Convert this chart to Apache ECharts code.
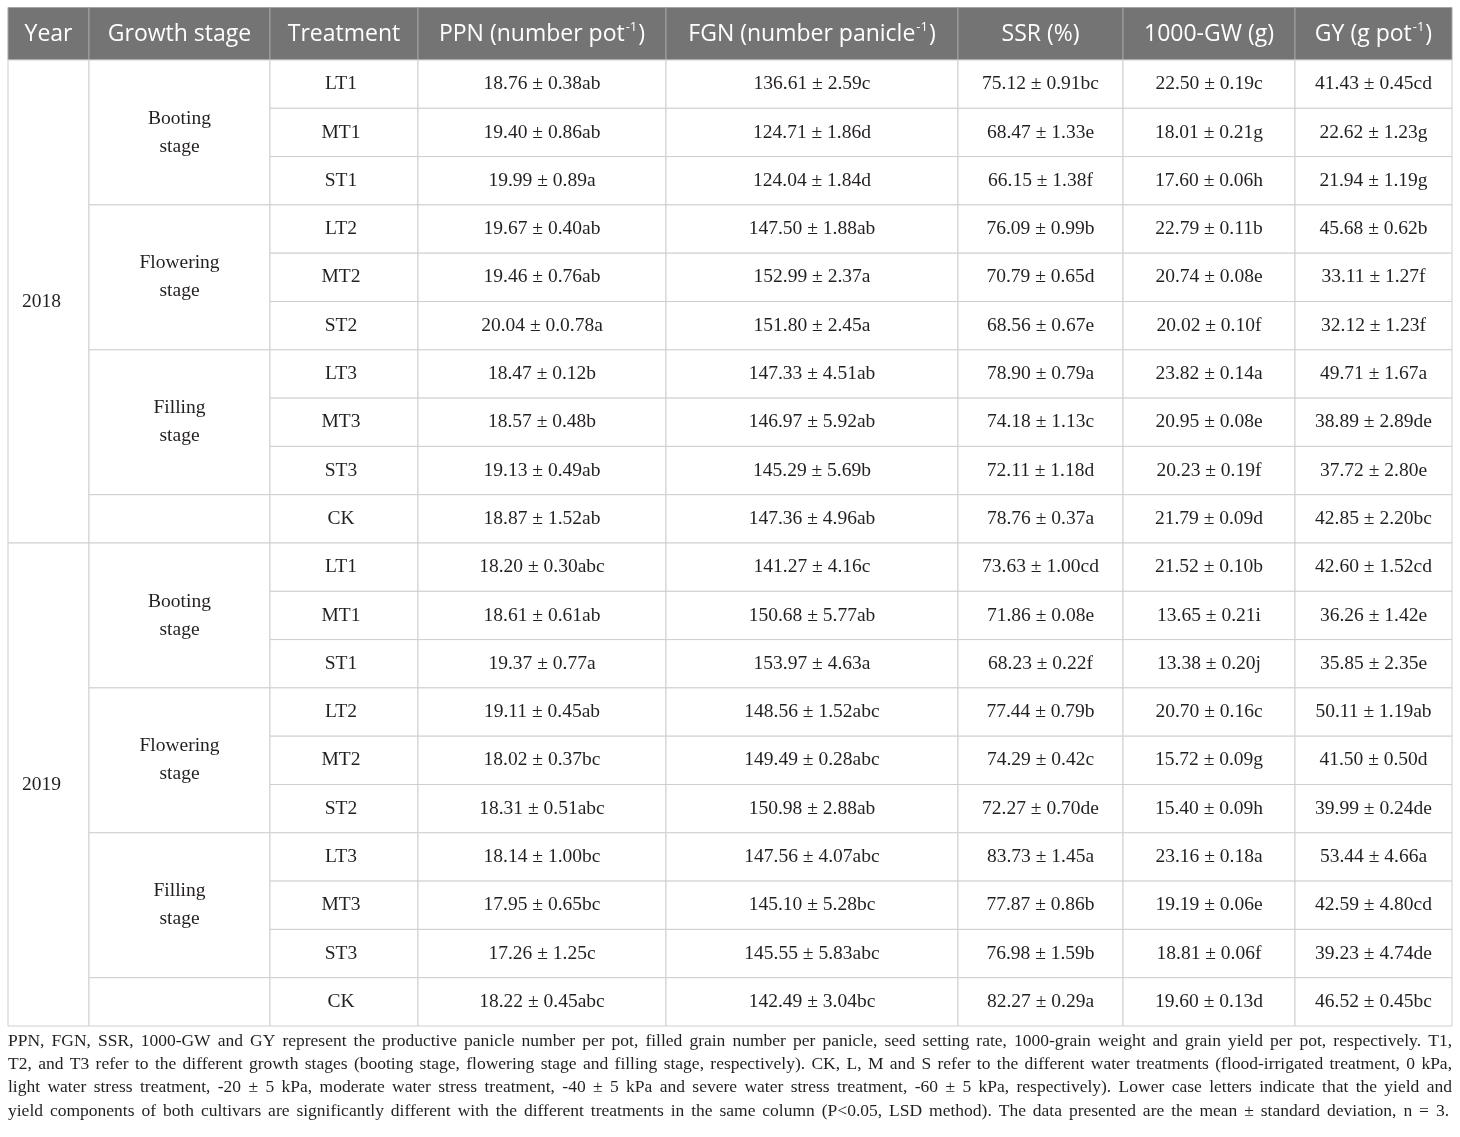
<!DOCTYPE html>
<html><head><meta charset="utf-8">
<script src="https://cdn.jsdelivr.net/npm/echarts@6/dist/echarts.min.js"></script>
<style>html,body{margin:0;padding:0;background:#fff}#c{width:1460px;height:1137px}</style>
</head><body><div id="c"></div>
<script>
// ---------- data ----------
const headers = ['Year','Growth stage','Treatment','PPN (number pot^-1)','FGN (number panicle^-1)','SSR (%)','1000-GW (g)','GY (g pot^-1)'];
const years = ['2018','2019'];
const stages = ['Booting\nstage','Flowering\nstage','Filling\nstage',''];
const stageSpans = [3,3,3,1];
const treatments = ['LT1','MT1','ST1','LT2','MT2','ST2','LT3','MT3','ST3','CK'];

const ppn2018 = ['18.76 ± 0.38ab','19.40 ± 0.86ab','19.99 ± 0.89a','19.67 ± 0.40ab','19.46 ± 0.76ab','20.04 ± 0.0.78a','18.47 ± 0.12b','18.57 ± 0.48b','19.13 ± 0.49ab','18.87 ± 1.52ab'];
const fgn2018 = ['136.61 ± 2.59c','124.71 ± 1.86d','124.04 ± 1.84d','147.50 ± 1.88ab','152.99 ± 2.37a','151.80 ± 2.45a','147.33 ± 4.51ab','146.97 ± 5.92ab','145.29 ± 5.69b','147.36 ± 4.96ab'];
const ssr2018 = ['75.12 ± 0.91bc','68.47 ± 1.33e','66.15 ± 1.38f','76.09 ± 0.99b','70.79 ± 0.65d','68.56 ± 0.67e','78.90 ± 0.79a','74.18 ± 1.13c','72.11 ± 1.18d','78.76 ± 0.37a'];
const gw2018  = ['22.50 ± 0.19c','18.01 ± 0.21g','17.60 ± 0.06h','22.79 ± 0.11b','20.74 ± 0.08e','20.02 ± 0.10f','23.82 ± 0.14a','20.95 ± 0.08e','20.23 ± 0.19f','21.79 ± 0.09d'];
const gy2018  = ['41.43 ± 0.45cd','22.62 ± 1.23g','21.94 ± 1.19g','45.68 ± 0.62b','33.11 ± 1.27f','32.12 ± 1.23f','49.71 ± 1.67a','38.89 ± 2.89de','37.72 ± 2.80e','42.85 ± 2.20bc'];

const ppn2019 = ['18.20 ± 0.30abc','18.61 ± 0.61ab','19.37 ± 0.77a','19.11 ± 0.45ab','18.02 ± 0.37bc','18.31 ± 0.51abc','18.14 ± 1.00bc','17.95 ± 0.65bc','17.26 ± 1.25c','18.22 ± 0.45abc'];
const fgn2019 = ['141.27 ± 4.16c','150.68 ± 5.77ab','153.97 ± 4.63a','148.56 ± 1.52abc','149.49 ± 0.28abc','150.98 ± 2.88ab','147.56 ± 4.07abc','145.10 ± 5.28bc','145.55 ± 5.83abc','142.49 ± 3.04bc'];
const ssr2019 = ['73.63 ± 1.00cd','71.86 ± 0.08e','68.23 ± 0.22f','77.44 ± 0.79b','74.29 ± 0.42c','72.27 ± 0.70de','83.73 ± 1.45a','77.87 ± 0.86b','76.98 ± 1.59b','82.27 ± 0.29a'];
const gw2019  = ['21.52 ± 0.10b','13.65 ± 0.21i','13.38 ± 0.20j','20.70 ± 0.16c','15.72 ± 0.09g','15.40 ± 0.09h','23.16 ± 0.18a','19.19 ± 0.06e','18.81 ± 0.06f','19.60 ± 0.13d'];
const gy2019  = ['42.60 ± 1.52cd','36.26 ± 1.42e','35.85 ± 2.35e','50.11 ± 1.19ab','41.50 ± 0.50d','39.99 ± 0.24de','53.44 ± 4.66a','42.59 ± 4.80cd','39.23 ± 4.74de','46.52 ± 0.45bc'];

const footnote = [
 'PPN, FGN, SSR, 1000-GW and GY represent the productive panicle number per pot, filled grain number per panicle, seed setting rate, 1000-grain weight and grain yield per pot, respectively. T1,',
 'T2, and T3 refer to the different growth stages (booting stage, flowering stage and filling stage, respectively). CK, L, M and S refer to the different water treatments (flood-irrigated treatment, 0 kPa,',
 'light water stress treatment, -20 ± 5 kPa, moderate water stress treatment, -40 ± 5 kPa and severe water stress treatment, -60 ± 5 kPa, respectively). Lower case letters indicate that the yield and',
 'yield components of both cultivars are significantly different with the different treatments in the same column (P<0.05, LSD method). The data presented are the mean ± standard deviation, n = 3.'
];

// ---------- layout (table units) ----------
const colEdges = [0, 81, 262, 410, 658, 950, 1115, 1287, 1444];
const colShift = [-7, 0, -3, 0, 0, 0, 0, 0];
const headH = 52.5, rowH = 48.3;
const tableW = colEdges[colEdges.length-1];
const tableH = headH + 20*rowH;
const GL = 8, GT = 7.5;
const SERIF = '"Liberation Serif", "Times New Roman", serif';
const SANS = '"Open Sans", "Noto Sans", sans-serif';

const yearCols = {'2018':[ppn2018,fgn2018,ssr2018,gw2018,gy2018], '2019':[ppn2019,fgn2019,ssr2019,gw2019,gy2019]};

const cells = [];
headers.forEach((h,c)=>cells.push({x0:colEdges[c],x1:colEdges[c+1],y0:0,y1:headH,text:h,head:true,col:c}));
years.forEach((yr,yi)=>{
  const base = yi*10;
  const ry = r => headH + r*rowH;
  cells.push({x0:colEdges[0],x1:colEdges[1],y0:ry(base),y1:ry(base+10),text:yr,col:0});
  let r = base;
  stages.forEach((s,si)=>{
    cells.push({x0:colEdges[1],x1:colEdges[2],y0:ry(r),y1:ry(r+stageSpans[si]),text:s,col:1});
    r += stageSpans[si];
  });
  treatments.forEach((t,ti)=>{
    const rr = base+ti;
    cells.push({x0:colEdges[2],x1:colEdges[3],y0:ry(rr),y1:ry(rr+1),text:t,col:2});
    yearCols[yr].forEach((arr,k)=>{
      cells.push({x0:colEdges[3+k],x1:colEdges[4+k],y0:ry(rr),y1:ry(rr+1),text:arr[ti],col:3+k});
    });
  });
});

function headText(h){
  if (h.indexOf('^') < 0) return '{t|'+h+'}';
  const m = h.match(/^(.*)\^(-1)(.*)$/);
  return '{t|'+m[1]+'}{s|'+m[2]+'}{t|'+m[3]+'}';
}

// ---------- footnote justification ----------
const fnSize = 17.5;
const fnFont = fnSize+'px '+SERIF;
const cv = document.createElement('canvas').getContext('2d');
cv.font = fnFont;
const fnLineY = [1041, 1064.3, 1087.6, 1111];
const fnTargets = [1444, 1444, 1444, 1441];
const graphics = [];
footnote.forEach((line,li)=>{
  const words = line.split(' ');
  const ws = words.map(w=>cv.measureText(w).width);
  const tot = ws.reduce((a,b)=>a+b,0);
  const gap = (fnTargets[li]-tot)/(words.length-1);
  let x = GL;
  words.forEach((w,wi)=>{
    graphics.push({type:'text', x:x, y:fnLineY[li], style:{text:w, font:fnFont, fill:'#231f20', textVerticalAlign:'middle', verticalAlign:'middle'}});
    x += ws[wi]+gap;
  });
});

const chart = echarts.init(document.getElementById('c'), null, {renderer:'canvas'});
chart.setOption({
  backgroundColor:'#ffffff',
  animation:false,
  grid:{left:GL, top:GT, width:tableW, height:tableH, containLabel:false},
  xAxis:{type:'value', min:0, max:tableW, show:false},
  yAxis:{type:'value', min:0, max:tableH, inverse:true, show:false},
  graphic: graphics,
  series:[{
    type:'custom',
    coordinateSystem:'cartesian2d',
    clip:false,
    encode:{x:[0,1], y:[2,3]},
    data: cells.map(c=>[c.x0,c.x1,c.y0,c.y1]),
    renderItem:(params, api)=>{
      const c = cells[params.dataIndex];
      const p0 = api.coord([api.value(0), api.value(2)]);
      const p1 = api.coord([api.value(1), api.value(3)]);
      const x = Math.min(p0[0],p1[0]), y = Math.min(p0[1],p1[1]);
      const w = Math.abs(p1[0]-p0[0]), h = Math.abs(p1[1]-p0[1]);
      const rect = {type:'rect', shape:{x:x,y:y,width:w,height:h},
        style:{fill:c.head?'#747474':'#ffffff', stroke:c.head?'#a3a3a3':'#cfcfcf', lineWidth:1}, z2: c.head?0:1};
      let txt;
      if (c.head) {
        txt = {type:'text', x:x+w/2, y:y+h/2+1, z2:5, style:{
          text: headText(c.text), align:'center', verticalAlign:'middle',
          rich:{
            t:{fontFamily:SANS, fontSize:23, fill:'#ffffff', lineHeight:28, verticalAlign:'middle'},
            s:{fontFamily:SANS, fontSize:13, fill:'#ffffff', lineHeight:28, verticalAlign:'top', padding:[0,1,0,1]}
          }}};
      } else {
        txt = {type:'text', x:x+w/2+colShift[c.col], y:y+h/2, z2:5, style:{
          text:c.text, align:'center', verticalAlign:'middle',
          fontFamily:SERIF, fontSize:19.5, fill:'#231f20', lineHeight:28}};
      }
      return {type:'group', children:[rect, txt]};
    }
  }]
});
</script>
</body></html>
